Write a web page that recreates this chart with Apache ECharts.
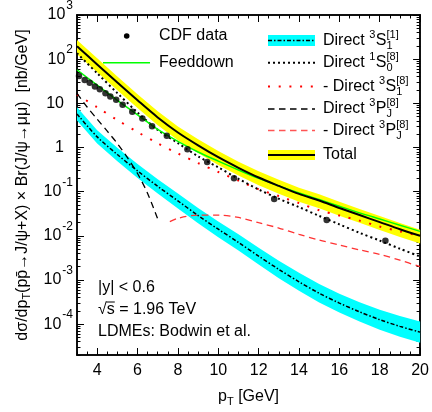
<!DOCTYPE html>
<html>
<head>
<meta charset="utf-8">
<script src="https://cdn.jsdelivr.net/npm/echarts@6/dist/echarts.min.js"></script>
<style>
  html, body { margin: 0; padding: 0; background: #fff; }
  #main { width: 432px; height: 412px; }
</style>
</head>
<body>
<div id="main"></div>
<script>
// pT grid used by the theory curves
var ptGrid = [3, 4, 5, 6, 7, 8, 9, 10, 11, 12, 13, 14, 15, 16, 17, 18, 19, 20];

// CDF data
var cdfPt  = [3.1, 3.38, 3.63, 3.89, 4.13, 4.41, 4.65, 4.94, 5.26, 5.74, 6.24, 6.72, 7.45, 8.47, 9.45, 10.78, 12.77, 15.37, 18.28];
var cdfVal = [41.3, 33.6, 29.3, 23.9, 20.8, 16.9, 14.3, 12.1, 9.26, 6.41, 4.53, 3.03, 1.85, 0.916, 0.471, 0.201, 0.0678, 0.0227, 0.00774];

// Total + band
var totalVal = [195, 75.9, 29.5, 11.7, 4.79, 2.19, 1.12, 0.603, 0.347, 0.209, 0.135, 0.0891, 0.0631, 0.0427, 0.0295, 0.0204, 0.0141, 0.0100];
var totalUp  = [270, 105, 40.7, 16.1, 6.6, 3.0, 1.54, 0.83, 0.478, 0.288, 0.186, 0.123, 0.087, 0.059, 0.0406, 0.0281, 0.0194, 0.0138];
var totalLo  = [130, 50.6, 19.7, 7.8, 3.2, 1.46, 0.75, 0.40, 0.231, 0.139, 0.090, 0.059, 0.042, 0.0285, 0.0197, 0.0136, 0.0094, 0.0067];

// Feeddown
var feedVal = [57.5, 25.7, 11.7, 5.5, 2.57, 1.38, 0.79, 0.49, 0.309, 0.2, 0.135, 0.0933, 0.0661, 0.0468, 0.0331, 0.024, 0.0174, 0.0126];

// Direct 3S1[1] + band
var cs1Val = [5.75, 1.74, 0.692, 0.295, 0.132, 0.0617, 0.0288, 0.0141, 0.00708, 0.00347, 0.00174, 9.1e-4, 5.0e-4, 3.0e-4, 1.9e-4, 1.26e-4, 8.9e-5, 6.6e-5];
var cs1Up  = [8.1, 2.47, 0.99, 0.425, 0.192, 0.091, 0.0428, 0.0212, 0.0108, 0.0054, 0.00274, 0.00145, 8.1e-4, 4.9e-4, 3.15e-4, 2.12e-4, 1.52e-4, 1.14e-4];
var cs1Lo  = [4.1, 1.23, 0.485, 0.205, 0.0908, 0.0418, 0.0193, 0.0093, 0.00463, 0.00223, 0.00110, 5.7e-4, 3.1e-4, 1.84e-4, 1.15e-4, 7.5e-5, 5.2e-5, 3.8e-5];

// Direct 1S0[8]
var s0Val = [136, 47.9, 17, 6.2, 2.5, 1.26, 0.63, 0.355, 0.195, 0.112, 0.069, 0.0447, 0.0282, 0.0182, 0.0117, 0.0078, 0.0051, 0.0034];

// - Direct 3S1[8]
var s1Val = [15.8, 8.15, 4.17, 2.24, 1.24, 0.733, 0.444, 0.279, 0.178, 0.1135, 0.0794, 0.055, 0.038, 0.0288, 0.0221, 0.0162, 0.0126, 0.010];

// Direct 3PJ[8] (positive part) and - Direct 3PJ[8] (negative part)
var pjPt  = [3, 3.5, 4, 4.5, 5, 5.5, 6, 6.5, 7];
var pjVal = [16.7, 8.26, 4.37, 2.34, 1.23, 0.589, 0.257, 0.0912, 0.024];
var pjNegPt  = [7.6, 8, 9, 10, 11, 12, 13, 14, 15, 16, 17, 18, 19, 20];
var pjNegVal = [0.021, 0.025, 0.0295, 0.0295, 0.026, 0.0198, 0.015, 0.0108, 0.0080, 0.0062, 0.0048, 0.0038, 0.0028, 0.0020];

// axis ticks
var xMajor = [4, 6, 8, 10, 12, 14, 16, 18, 20];
var yMajor = [1e-4, 1e-3, 1e-2, 1e-1, 1, 10, 100, 1000];
var Y_MIN = 2e-5, Y_MAX = 1000;

var FONT = 'Liberation Sans, Arial, Helvetica, sans-serif';

var xMinor = [];
for (var v = 3; v <= 20; v += 0.5) if (xMajor.indexOf(v) < 0) xMinor.push(v);
var yMinor = [];
for (var d = -5; d < 3; d++) {
  for (var k = 2; k <= 9; k++) {
    var m = k * Math.pow(10, d);
    if (m >= Y_MIN && m <= Y_MAX) yMinor.push(m);
  }
}

function pairs(xs, ys) {
  return xs.map(function (x, i) { return [x, ys[i]]; });
}

function band(up, lo, color) {
  return {
    type: 'custom',
    silent: true,
    z: 1,
    data: [[ptGrid[0], up[0]]],
    renderItem: function (params, api) {
      var pts = [];
      for (var i = 0; i < ptGrid.length; i++) pts.push(api.coord([ptGrid[i], up[i]]));
      for (var j = ptGrid.length - 1; j >= 0; j--) pts.push(api.coord([ptGrid[j], lo[j]]));
      return { type: 'polygon', shape: { points: pts }, style: { fill: color } };
    }
  };
}

function line(xs, ys, color, width, dash) {
  return {
    type: 'line',
    data: pairs(xs, ys),
    showSymbol: false,
    smooth: 0.3,
    z: 3,
    lineStyle: { color: color, width: width, type: dash || 'solid' }
  };
}

// text helpers for the legend and notes
var ctx = document.createElement('canvas').getContext('2d');
function tw(s, size) {
  ctx.font = size + 'px ' + FONT;
  return ctx.measureText(s).width;
}
function txt(x, y, s, size) {
  return {
    type: 'text', x: x, y: y, silent: true, z: 10,
    style: { text: s, fontSize: size, fontFamily: FONT, fill: '#000', align: 'left', verticalAlign: 'middle' }
  };
}
function texLabel(x, y, parts) {
  var out = [];
  parts.forEach(function (p) {
    if (typeof p === 'string') {
      out.push(txt(x, y, p, 16));
      x += tw(p, 16);
    } else {
      var w = 0;
      if (p.sup) { out.push(txt(x, y - 6, p.sup, 11)); w = tw(p.sup, 11); }
      if (p.sub) { out.push(txt(x, y + 5, p.sub, 11)); w = Math.max(w, tw(p.sub, 11)); }
      x += w + 0.5;
    }
  });
  return out;
}
function hline(x1, x2, y, color, width, dash) {
  return {
    type: 'line', silent: true, z: 10,
    shape: { x1: x1, y1: y, x2: x2, y2: y },
    style: { stroke: color, lineWidth: width, lineDash: dash || null }
  };
}
function box(x, y, w, h, color) {
  return { type: 'rect', silent: true, z: 9, shape: { x: x, y: y, width: w, height: h }, style: { fill: color } };
}

var LX1 = 268, LX2 = 315, LT = 323;
var graphics = [];
// left legend column
graphics.push({ type: 'circle', silent: true, z: 10, shape: { cx: 126.7, cy: 36, r: 2.8 }, style: { fill: '#000' } });
graphics = graphics.concat(texLabel(159, 36, ['CDF data']));
graphics.push(hline(103, 150, 62.7, '#00ff00', 1.5));
graphics = graphics.concat(texLabel(159, 62.5, ['Feeddown']));
// right legend column
graphics.push(box(LX1, 35, LX2 - LX1, 11, '#00ffff'));
graphics.push(hline(LX1, LX2, 40.5, '#000', 1.5, [4, 2, 1.5, 2]));
graphics = graphics.concat(texLabel(LT, 40.5, ['Direct ', { sup: '3' }, 'S', { sup: '[1]', sub: '1' }]));
graphics.push(hline(LX1, LX2, 62.7, '#000', 2, [2, 3]));
graphics = graphics.concat(texLabel(LT, 63, ['Direct ', { sup: '1' }, 'S', { sup: '[8]', sub: '0' }]));
graphics.push(hline(LX1, LX2, 86.5, '#ff0000', 2, [2, 8.7]));
graphics = graphics.concat(texLabel(LT, 86.5, ['- Direct ', { sup: '3' }, 'S', { sup: '[8]', sub: '1' }]));
graphics.push(hline(LX1, LX2, 109, '#000', 1.3, [6.5, 4.5]));
graphics = graphics.concat(texLabel(LT, 109, ['Direct ', { sup: '3' }, 'P', { sup: '[8]', sub: 'J' }]));
graphics.push(hline(LX1, LX2, 130.5, '#ff5555', 1.3, [6.5, 4.5]));
graphics = graphics.concat(texLabel(LT, 130.5, ['- Direct ', { sup: '3' }, 'P', { sup: '[8]', sub: 'J' }]));
graphics.push(box(LX1, 150, LX2 - LX1, 10, '#ffff00'));
graphics.push(hline(LX1, LX2, 155, '#000', 2));
graphics = graphics.concat(texLabel(LT, 155, ['Total']));
// notes
graphics = graphics.concat(texLabel(98, 288, ['|y| < 0.6']));
var sqW = tw('\u221a', 16), sW = tw('s', 16);
graphics = graphics.concat(texLabel(98, 310, ['\u221as = 1.96 TeV']));
graphics.push(hline(98 + sqW - 0.5, 98 + sqW + sW, 302, '#000', 1));
graphics = graphics.concat(texLabel(98, 332, ['LDMEs: Bodwin et al.']));

function xAx(pos, ticks, len, labels) {
  return {
    type: 'value', min: 3, max: 20, position: pos,
    axisLine: { show: true, lineStyle: { color: '#000', width: 1.5 } },
    axisTick: { show: true, inside: true, length: len, customValues: ticks, lineStyle: { color: '#000', width: 1 } },
    axisLabel: labels ? { show: true, customValues: xMajor, margin: 8, color: '#000', fontSize: 16, fontFamily: FONT } : { show: false },
    splitLine: { show: false }
  };
}
function yAx(pos, ticks, len, labels) {
  return {
    type: 'log', min: Y_MIN, max: Y_MAX, position: pos,
    axisLine: { show: true, lineStyle: { color: '#000', width: 1.5 } },
    axisTick: { show: true, inside: true, length: len, customValues: ticks, lineStyle: { color: '#000', width: 1 } },
    axisLabel: labels ? {
      show: true, customValues: yMajor, margin: 4,
      formatter: function (val) {
        var e = Math.round(Math.log10(val));
        if (e === 0) return '{c|1}';
        if (e === 1) return '{c|10}';
        return '{b|10}{e|' + e + '}';
      },
      rich: {
        b: { fontSize: 16, fontFamily: FONT, color: '#000' },
        c: { fontSize: 16, fontFamily: FONT, color: '#000', padding: [0, 9, 0, 0] },
        e: { fontSize: 12, fontFamily: FONT, color: '#000', padding: [0, 0, 18, 1] }
      }
    } : { show: false },
    splitLine: { show: false }
  };
}

var xAxes = [xAx('bottom', xMajor, 7, true), xAx('bottom', xMinor, 3.5, false), xAx('top', xMajor, 7, false), xAx('top', xMinor, 3.5, false)];
xAxes[0].name = 'p{s|T} [GeV]';
xAxes[0].nameLocation = 'middle';
xAxes[0].nameGap = 31;
xAxes[0].nameTextStyle = { fontSize: 16, fontFamily: FONT, color: '#000', rich: { s: { fontSize: 11, fontFamily: FONT, padding: [10, 0, 0, 0] } } };

var yAxes = [yAx('left', yMajor, 7, true), yAx('left', yMinor, 3.5, false), yAx('right', yMajor, 7, false), yAx('right', yMinor, 3.5, false)];
yAxes[0].name = 'd\u03c3/dp{s|T}(pp\u0304\u2192J/\u03c8+X) \u00d7 Br(J/\u03c8\u2192\u03bc\u03bc)  [nb/GeV]';
yAxes[0].nameLocation = 'middle';
yAxes[0].nameGap = 44;
yAxes[0].nameTextStyle = { fontSize: 16, fontFamily: FONT, color: '#000', rich: { s: { fontSize: 11, fontFamily: FONT, padding: [10, 0, 0, 0] } } };

var chart = echarts.init(document.getElementById('main'));
chart.setOption({
  animation: false,
  backgroundColor: '#fff',
  grid: { left: 77, right: 6, top: 10, bottom: 54, containLabel: false },
  xAxis: xAxes,
  yAxis: yAxes,
  graphic: graphics,
  series: [
    band(totalUp, totalLo, '#ffff00'),
    band(cs1Up, cs1Lo, '#00ffff'),
    line(ptGrid, s1Val, '#ff0000', 2, [2, 8.7]),
    line(pjNegPt, pjNegVal, '#ff3333', 1.3, [6.5, 4.5]),
    line(pjPt, pjVal, '#000', 1.3, [6.5, 4.5]),
    line(ptGrid, cs1Val, '#000', 1.5, [4, 2, 1.5, 2]),
    line(ptGrid, s0Val, '#000', 2, [2, 3]),
    line(ptGrid, feedVal, '#00ff00', 1.5),
    line(ptGrid, totalVal, '#000', 2),
    {
      type: 'scatter',
      data: pairs(cdfPt, cdfVal),
      symbol: 'circle',
      symbolSize: 6.5,
      z: 5,
      itemStyle: { color: '#000' }
    }
  ]
});
</script>
</body>
</html>
